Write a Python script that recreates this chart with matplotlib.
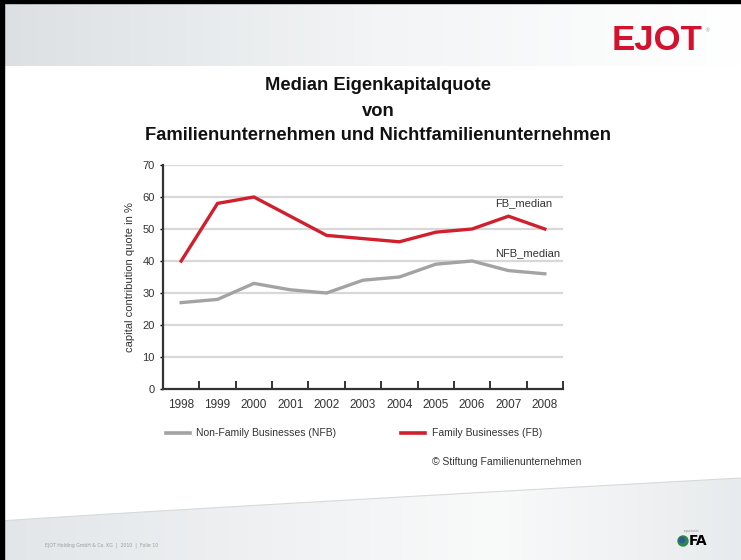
import numpy as np
import matplotlib
matplotlib.use('Agg')
import matplotlib.pyplot as plt
from matplotlib.patches import Polygon, Rectangle, Circle

# data
years = ['1998', '1999', '2000', '2001', '2002', '2003', '2004', '2005', '2006', '2007', '2008']
fb_median = [40, 58, 60, 54, 48, 47, 46, 49, 50, 54, 50]
nfb_median = [27, 28, 33, 31, 30, 34, 35, 39, 40, 37, 36]
y_ticks = [0, 10, 20, 30, 40, 50, 60, 70]

title_lines = ['Median Eigenkapitalquote', 'von', 'Familienunternehmen und Nichtfamilienunternehmen']

RED = '#d0202e'
GRAY = '#a3a3a3'
chart_font = ['Liberation Sans Narrow', 'Liberation Sans', 'DejaVu Sans']

W, H = 741, 560
fig = plt.figure(figsize=(W / 100, H / 100), dpi=100)

# slide background in pixel coordinates
bg = fig.add_axes([0, 0, 1, 1])
bg.set_xlim(0, W)
bg.set_ylim(H, 0)
bg.axis('off')

# header gradient band
grad = np.linspace(0, 1, 256).reshape(1, -1)
bg.imshow(grad, cmap=matplotlib.colors.LinearSegmentedColormap.from_list('g', ['#dce0e3', '#f2f4f5', '#ffffff']),
          extent=[0, W, 66, 0], aspect='auto', zorder=0)

# footer band with slanted top edge
foot = bg.imshow(grad, cmap=matplotlib.colors.LinearSegmentedColormap.from_list('f', ['#e2e6e8', '#eef0f2', '#f9fafa', '#e8ebed']),
                 extent=[0, W, H, 470], aspect='auto', zorder=0)
edge_x = np.linspace(0, W, 50)
edge_y = 521 - 43 * (edge_x / W) ** 0.95
clip = Polygon(np.column_stack([np.r_[edge_x, W, 0], np.r_[edge_y, H, H]]), closed=True, transform=bg.transData)
foot.set_clip_path(clip)
bg.plot(edge_x, edge_y, color='#d6dadc', lw=0.8, zorder=1)

# black border top and left
bg.add_patch(Rectangle((0, 0), W, 3, color='black', zorder=5))
bg.add_patch(Rectangle((0, 0), 3.5, H, color='black', zorder=5))

# logo
bg.text(657, 41, 'EJOT', color='#d4122e', fontsize=25, fontweight='bold', ha='center', va='center',
        family='Liberation Sans', zorder=3)
bg.text(707, 31, '®', color='#999999', fontsize=4, ha='center', va='center', zorder=3)

# footer
bg.text(45, 545, 'EJOT Holding GmbH & Co. KG  |  2010  |  Folie 10', color='#9a9a9a', fontsize=3.3,
        va='center', ha='left', zorder=3)
bg.add_patch(Circle((683, 541), 5, color='#2a8a4a', zorder=3))
bg.add_patch(Circle((682, 540), 2.5, color='#2a5a9a', zorder=3))
bg.text(698, 541, 'FA', color='black', fontsize=10, fontweight='bold', ha='center', va='center', zorder=3)
bg.text(692, 531, 'organisation', color='#888888', fontsize=1.8, ha='center', va='center', zorder=3)

# title
for i, line in enumerate(title_lines):
    bg.text(378, 86 + i * 25, line, fontsize=13.2, fontweight='bold', ha='center', va='center',
            family='Liberation Sans', color='#111111')

# chart
ax = fig.add_axes([163 / W, 1 - 389 / H, 400 / W, 224 / H])
x = np.arange(len(years))
ax.set_xlim(-0.5, len(years) - 0.5)
ax.set_ylim(0, 70)
for v in y_ticks[1:]:
    ax.axhline(v, color='#d8d8d8', lw=1.6, zorder=1)
ax.plot(x, nfb_median, color=GRAY, lw=2.4, zorder=3, solid_joinstyle='miter')
ax.plot(x, fb_median, color=RED, lw=2.4, zorder=4, solid_joinstyle='miter')

ax.text(8.62, 58.2, 'FB_median', fontsize=8, family=chart_font, color='#333333', va='center')
ax.text(8.62, 42.5, 'NFB_median', fontsize=8, family=chart_font, color='#333333', va='center')

ax.set_yticks(y_ticks)
ax.set_yticklabels([str(v) for v in y_ticks], fontsize=8, family=chart_font, color='#333333')
ax.set_xticks(x)
ax.set_xticklabels(years, fontsize=8.5, family=chart_font, color='#333333')
ax.tick_params(axis='x', length=0, pad=7)
ax.tick_params(axis='y', length=2, width=1, pad=4, direction='out')
ax.set_xticks(np.arange(0.5, len(years) - 0.5 + 1), minor=True)
ax.tick_params(axis='x', which='minor', length=6, width=1.4, direction='in', color='#333333')

for s in ['top', 'right']:
    ax.spines[s].set_visible(False)
for s in ['left', 'bottom']:
    ax.spines[s].set_linewidth(1.6)
    ax.spines[s].set_color('#333333')
ax.set_facecolor('none')
ax.set_ylabel('capital contribution quote in %', fontsize=8, family=chart_font, color='#333333', labelpad=5)

# legend
bg.plot([166, 190], [433, 433], color=GRAY, lw=2.6)
bg.text(196, 433, 'Non-Family Businesses (NFB)', fontsize=7.5, family=chart_font, va='center', color='#333333')
bg.plot([401, 425], [433, 433], color=RED, lw=2.6)
bg.text(432, 433, 'Family Businesses (FB)', fontsize=7.5, family=chart_font, va='center', color='#333333')
bg.text(432, 462, '© Stiftung Familienunternehmen', fontsize=7.5, family=chart_font, va='center', color='#333333')

fig.savefig('out.png', dpi=100)
